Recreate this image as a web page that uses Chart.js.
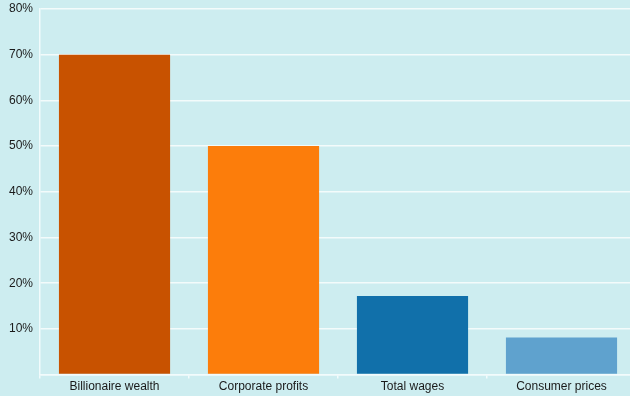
<!DOCTYPE html>
<html>
<head>
<meta charset="utf-8">
<script src="https://cdn.jsdelivr.net/npm/chart.js@4"></script>
<style>
  html, body { margin: 0; padding: 0; background: #cdedf0; overflow: hidden; }
  #wrap { width: 630px; height: 396px; overflow: hidden; }
  #box { width: 636px; height: 396px; }
</style>
</head>
<body>
<div id="wrap"><div id="box"><canvas id="chartGrowth"></canvas></div></div>
<script>
const categories = ['Billionaire wealth', 'Corporate profits', 'Total wages', 'Consumer prices'];
const growthPct = [70, 50, 17.2, 8.1];
const barColors = ['#c85200', '#fc7d0b', '#1170aa', '#5fa2ce'];
const yTicks = [10, 20, 30, 40, 50, 60, 70, 80];

const bgFill = {
  id: 'bgFill',
  beforeDraw(c) {
    const g = c.ctx;
    g.save();
    g.fillStyle = '#cdedf0';
    g.fillRect(0, 0, c.width, c.height);
    g.restore();
  }
};

Chart.defaults.font.family = 'Arial, "Liberation Sans", sans-serif';
Chart.defaults.font.size = 12;
Chart.defaults.color = '#1a1a1a';

new Chart(document.getElementById('chartGrowth'), {
  type: 'bar',
  data: {
    labels: categories,
    datasets: [{
      data: growthPct,
      backgroundColor: barColors,
      borderColor: barColors,
      borderWidth: 0,
      barPercentage: 0.746,
      categoryPercentage: 1
    }]
  },
  options: {
    responsive: true,
    maintainAspectRatio: false,
    animation: false,
    layout: { padding: { top: 9, left: 2, right: 0, bottom: 1 } },
    plugins: { legend: { display: false }, tooltip: { enabled: false } },
    scales: {
      x: {
        grid: { drawOnChartArea: false, color: '#f2fbfc', lineWidth: 1.5, tickLength: 4, offset: true },
        border: { color: '#f2fbfc', width: 1.5 },
        ticks: { padding: 1 }
      },
      y: {
        min: 0,
        max: 80,
        afterBuildTicks(ax) { ax.ticks = [0].concat(yTicks).map(v => ({ value: v })); },
        afterFit(ax) { ax.paddingTop = 0; ax.paddingBottom = 0; },
        grid: { color: 'rgba(255,255,255,0.75)', lineWidth: 1.5, drawTicks: false },
        border: { color: '#f2fbfc', width: 1.5 },
        ticks: { padding: 7, callback: v => v === 0 ? '' : v + '%' }
      }
    }
  },
  plugins: [bgFill]
});
</script>
</body>
</html>
